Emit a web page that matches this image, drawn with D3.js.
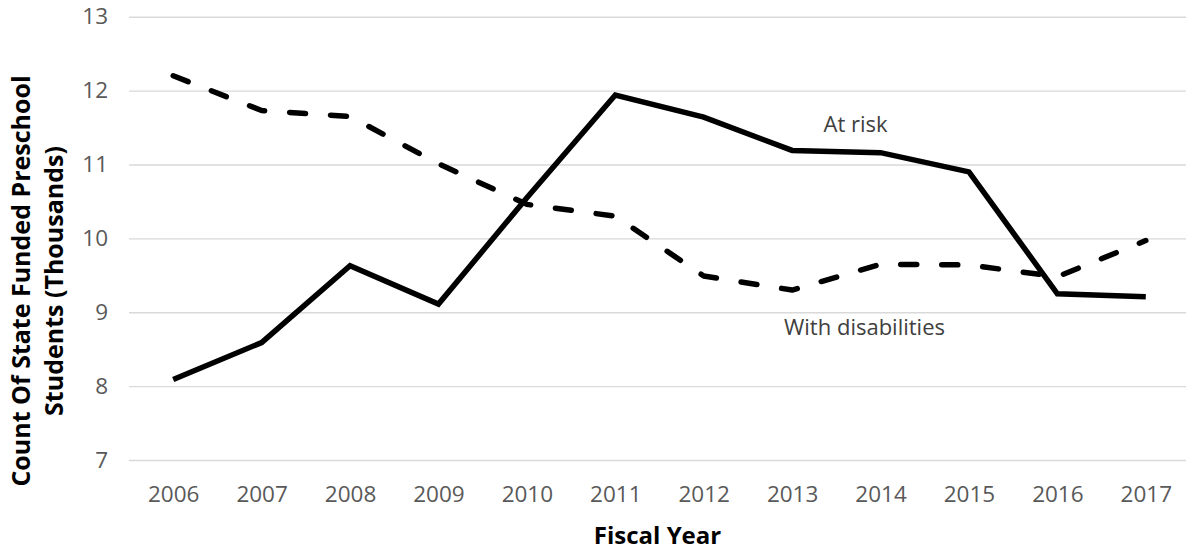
<!DOCTYPE html>
<html>
<head>
<meta charset="utf-8">
<script src="https://cdn.jsdelivr.net/npm/d3@7"></script>
<style>
  html, body { margin: 0; padding: 0; background: #ffffff; }
  svg { display: block; }
</style>
</head>
<body>
<svg id="chart" width="1186" height="552"></svg>
<script>
const years = ["2006","2007","2008","2009","2010","2011","2012","2013","2014","2015","2016","2017"];
const atRisk = [8.09, 8.59, 9.63, 9.11, 10.55, 11.94, 11.64, 11.19, 11.16, 10.90, 9.25, 9.21];
const withDisabilities = [12.20, 11.73, 11.65, 11.01, 10.46, 10.30, 9.49, 9.30, 9.65, 9.64, 9.48, 9.97];
const yTicks = [7, 8, 9, 10, 11, 12, 13];
const seriesLabels = ["At risk", "With disabilities"];
const xTitle = "Fiscal Year";
const yTitleLines = ["Count Of State Funded Preschool", "Students (Thousands)"];

const svg = d3.select("#chart");
const font = "'Open Sans', 'Noto Sans', sans-serif";

const x = d3.scalePoint().domain(years).range([129, 1190]).padding(0.5);
const y = d3.scaleLinear().domain([7, 13]).range([460, 16.7]);

// gridlines and y tick labels
const yAxis = d3.axisLeft(y).tickValues(yTicks).tickSize(-(1186 - 129)).tickPadding(21).tickFormat(d3.format("d"));
const gy = svg.append("g").attr("transform", "translate(129,0)").call(yAxis);
gy.select(".domain").remove();
gy.selectAll(".tick line").attr("stroke", "#d9d9d9").attr("stroke-width", 1.4);
gy.selectAll(".tick text")
  .attr("fill", "#595959")
  .style("font-family", font)
  .style("font-size", "22.5px");

// x axis labels
const xAxis = d3.axisBottom(x).tickSize(0).tickPadding(0);
const gx = svg.append("g").attr("transform", "translate(0,480)").call(xAxis);
gx.select(".domain").remove();
gx.selectAll(".tick text")
  .attr("fill", "#595959")
  .attr("dy", "0.71em")
  .attr("y", 6)
  .style("font-family", font)
  .style("font-size", "22.5px");

// lines
const line = d3.line().x((d, i) => x(years[i])).y(d => y(d));

svg.append("path")
  .datum(withDisabilities)
  .attr("d", line)
  .attr("fill", "none")
  .attr("stroke", "#000")
  .attr("stroke-width", 5.5)
  .attr("stroke-linecap", "round")
  .attr("stroke-linejoin", "round")
  .attr("stroke-dasharray", "16 25");

svg.append("path")
  .datum(atRisk)
  .attr("d", line)
  .attr("fill", "none")
  .attr("stroke", "#000")
  .attr("stroke-width", 5.5)
  .attr("stroke-linecap", "butt")
  .attr("stroke-linejoin", "miter");

// series labels
svg.append("text")
  .attr("x", 855.5).attr("y", 131.5)
  .attr("text-anchor", "middle")
  .attr("fill", "#404040")
  .style("font-family", font).style("font-size", "22px")
  .text(seriesLabels[0]);

svg.append("text")
  .attr("x", 864.5).attr("y", 335)
  .attr("text-anchor", "middle")
  .attr("fill", "#404040")
  .style("font-family", font).style("font-size", "22px")
  .text(seriesLabels[1]);

// axis titles
svg.append("text")
  .attr("x", 657.5).attr("y", 544)
  .attr("text-anchor", "middle")
  .attr("fill", "#000")
  .style("font-family", font).style("font-size", "24px").style("font-weight", "bold")
  .text(xTitle);

const yt = svg.append("text")
  .attr("transform", "translate(0,281) rotate(-90)")
  .attr("text-anchor", "middle")
  .attr("fill", "#000")
  .style("font-family", font).style("font-size", "25px").style("font-weight", "bold");
yt.append("tspan").attr("x", 0).attr("y", 30).text(yTitleLines[0]);
yt.append("tspan").attr("x", 0).attr("y", 63).text(yTitleLines[1]);
</script>
</body>
</html>
